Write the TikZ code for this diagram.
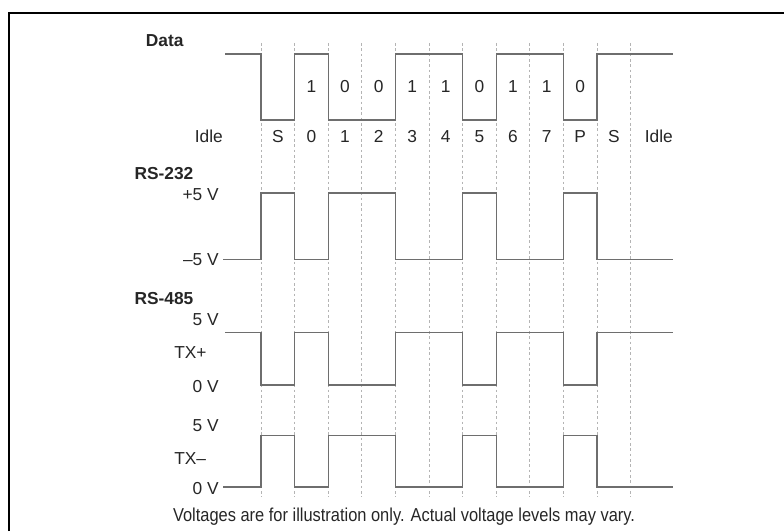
\documentclass[tikz,border=0pt]{standalone}
\usepackage{fontspec}
\setmainfont{Liberation Sans}
\newfontfamily\narrowfont[FakeStretch=0.88]{Liberation Sans}
\usepackage{tikz}
\definecolor{wavegray}{HTML}{6E6E6E}
\definecolor{gridgray}{HTML}{B4B4B4}
\definecolor{labelgray}{HTML}{262626}
\tikzset{
  lbl/.style={inner sep=0pt, text=labelgray, font=\fontsize{13}{15}\selectfont},
  head/.style={lbl, anchor=west, font=\fontsize{13}{15}\selectfont\bfseries},
  level/.style={lbl, anchor=east},
  wave/.style={draw=wavegray, line width=0.9pt},
  slotline/.style={draw=gridgray, line width=0.5pt, dash pattern=on 2pt off 2pt}
}

\begin{document}
\begin{tikzpicture}[x=0.75pt, y=-0.75pt]
\useasboundingbox (0,0) rectangle (784,531);
% frame
\draw[line width=1.5pt] (9,531) -- (9,13.3) -- (784,13.3);

% bit slots
\foreach \k in {0,...,11}
  \draw[slotline] (261+33.6*\k,43) -- (261+33.6*\k,497);

% Data
\draw (145.7,41) node[head] (data) {Data};
\draw (311.4,86.7) node[lbl] (b0) {1};
\draw (345,86.7) node[lbl] (b1) {0};
\draw (378.6,86.7) node[lbl] (b2) {0};
\draw (412.2,86.7) node[lbl] (b3) {1};
\draw (445.8,86.7) node[lbl] (b4) {1};
\draw (479.4,86.7) node[lbl] (b5) {0};
\draw (513,86.7) node[lbl] (b6) {1};
\draw (546.6,86.7) node[lbl] (b7) {1};
\draw (580.2,86.7) node[lbl] (bp) {0};

\draw (208.8,136.7) node[lbl] (idleA) {Idle};
\draw (277.8,136.7) node[lbl] (start) {S};
\draw (311.4,136.7) node[lbl] (n0) {0};
\draw (345,136.7) node[lbl] (n1) {1};
\draw (378.6,136.7) node[lbl] (n2) {2};
\draw (412.2,136.7) node[lbl] (n3) {3};
\draw (445.8,136.7) node[lbl] (n4) {4};
\draw (479.4,136.7) node[lbl] (n5) {5};
\draw (513,136.7) node[lbl] (n6) {6};
\draw (546.6,136.7) node[lbl] (n7) {7};
\draw (580.2,136.7) node[lbl] (par) {P};
\draw (613.8,136.7) node[lbl] (stop) {S};
\draw (658.8,136.7) node[lbl] (idleB) {Idle};

\draw[wave] (225,54) -| (261,120) -| (294.6,54) -| (328.2,120) -| (395.4,54)
  -| (462.6,120) -| (496.2,54) -| (563.4,120) -| (597,54) -- (673,54);

% RS-232
\draw (134.3,173.3) node[head] (rsA) {RS-232};
\draw (219,195) node[level] (pfive) {+5 V};
\draw (219,259.7) node[level] (mfive) {–5 V};

\draw[wave] (mfive.east) ++(4,0) -| (261,193) -| (294.6,259.7) -| (328.2,193) -| (395.4,259.7)
  -| (462.6,193) -| (496.2,259.7) -| (563.4,193) -| (597,259.7) -- (673,259.7);

% RS-485
\draw (134.3,299) node[head] (rsB) {RS-485};
\draw (219,320) node[level] (fiveA) {5 V};
\draw (174,352.7) node[lbl, anchor=west] (txp) {TX+};
\draw (219,386.7) node[level] (zeroA) {0 V};

\draw[wave] (225,332.3) -| (261,385) -| (294.6,332.3) -| (328.2,385) -| (395.4,332.3)
  -| (462.6,385) -| (496.2,332.3) -| (563.4,385) -| (597,332.3) -- (673,332.3);

\draw (219,425.7) node[level] (fiveB) {5 V};
\draw (174,458.3) node[lbl, anchor=west] (txm) {TX–};
\draw (219,488.3) node[level] (zeroB) {0 V};

\draw[wave] (zeroB.east) ++(4,-1.3) -| (261,435.3) -| (294.6,487) -| (328.2,435.3) -| (395.4,487)
  -| (462.6,435.3) -| (496.2,487) -| (563.4,435.3) -| (597,487) -- (673,487);

\draw (404,516.7) node[lbl, font=\fontsize{14}{16}\narrowfont] (note)
  {Voltages are for illustration only. Actual voltage levels may vary.};
\end{tikzpicture}
\end{document}
